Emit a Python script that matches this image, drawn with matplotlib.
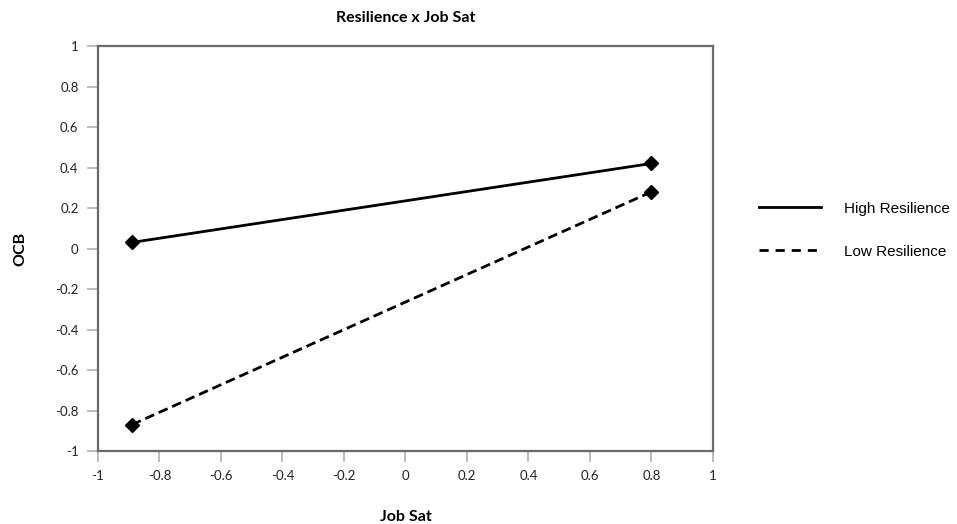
import matplotlib
matplotlib.use("Agg")
from matplotlib import pyplot as plt

# simple slopes: Job Sat (-1 SD, +1 SD) vs OCB
job_sat = [-0.89, 0.80]
high_resilience = [0.03, 0.42]
low_resilience = [-0.87, 0.28]
ticks = [-1, -0.8, -0.6, -0.4, -0.2, 0, 0.2, 0.4, 0.6, 0.8, 1]
tick_labels = ["-1", "-0.8", "-0.6", "-0.4", "-0.2", "0", "0.2", "0.4", "0.6", "0.8", "1"]

fig = plt.figure(figsize=(9.57, 5.24), dpi=100)
ax = fig.add_axes([0.1024, 0.1393, 0.6426, 0.7729])

ax.plot(job_sat, high_resilience, color="black", lw=2, marker="D", ms=7,
        label="High Resilience")
ax.plot(job_sat, low_resilience, color="black", lw=2, ls=(0, (3.5, 1.8)),
        marker="D", ms=7, label="Low Resilience")

ax.set_xlim(-1, 1)
ax.set_ylim(-1, 1)
ax.set_xticks(ticks)
ax.set_xticklabels(tick_labels)
ax.set_yticks(ticks)
ax.set_yticklabels(tick_labels)

for s in ax.spines.values():
    s.set_color("#6a6a6a")
    s.set_linewidth(1.6)
ax.tick_params(direction="out", length=8, width=1.2, color="#b0b0b0",
               labelsize=9.5, labelcolor="#222222", pad=6)
for lbl in ax.get_xticklabels() + ax.get_yticklabels():
    lbl.set_family("Lato")

ax.set_title("Resilience x Job Sat", fontsize=11.5, fontweight="bold",
             family="Lato", pad=17)
ax.set_xlabel("Job Sat", fontsize=11.5, fontweight="bold", family="Lato",
              labelpad=20)
ax.set_ylabel("OCB", fontsize=11.5, fontweight="bold", family="Lato",
              labelpad=20)

leg = ax.legend(loc="center left", bbox_to_anchor=(1.052, 0.545), frameon=False,
                handlelength=4.1, labelspacing=1.9, handletextpad=1.5,
                prop={"family": "Liberation Sans", "size": 11})
for h in leg.get_lines():
    h.set_marker("")
    h.set_linestyle("-" if h.get_label() == "High Resilience" else (0, (3.3, 2.5)))

plt.savefig("out.png", dpi=100)
plt.close()
